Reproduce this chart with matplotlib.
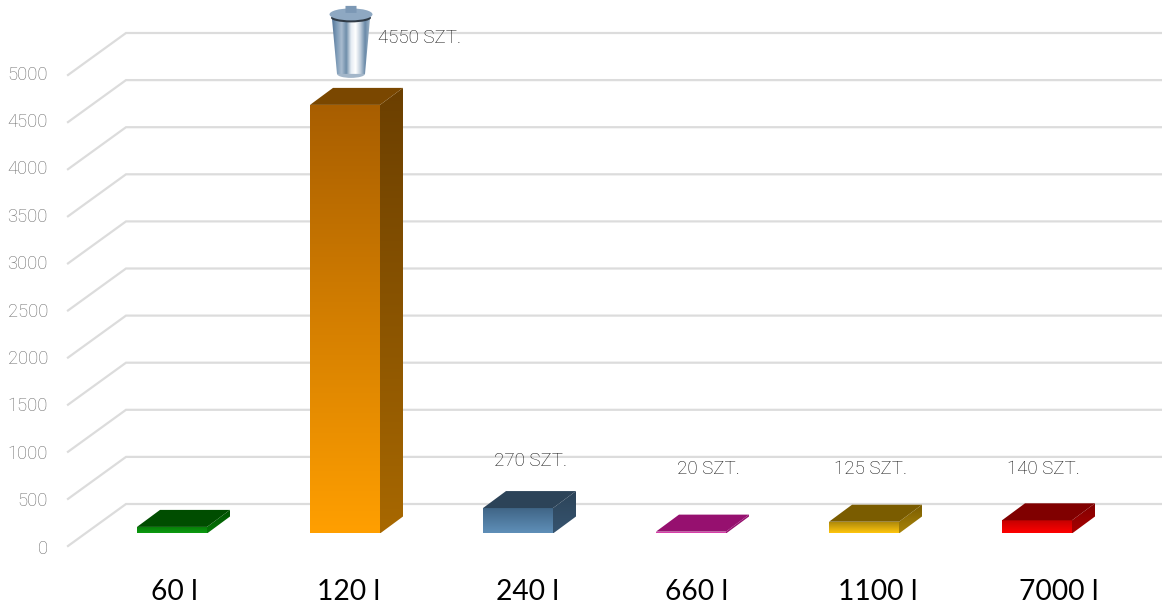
import numpy as np
import matplotlib
matplotlib.use("Agg")
import matplotlib.pyplot as plt
from matplotlib.colors import LinearSegmentedColormap
from matplotlib.patches import Polygon, Ellipse, FancyBboxPatch

categories = ["60 l", "120 l", "240 l", "660 l", "1100 l", "7000 l"]
values = [70, 4550, 270, 20, 125, 140]
labels = [None, "4550 SZT.", "270 SZT.", "20 SZT.", "125 SZT.", "140 SZT."]
y_ticks = [0, 500, 1000, 1500, 2000, 2500, 3000, 3500, 4000, 4500, 5000]

# front colour bottom/top, side colour bottom/top, top face
front_bottom = ["#0c9c10", "#ff9f00", "#5f8fb8", "#f050c0", "#ffc60e", "#ff0000"]
front_top = ["#067a08", "#a85e00", "#3f6485", "#96106f", "#a8840a", "#c00000"]
side_bottom = ["#067a08", "#a86800", "#36546f", "#96106f", "#a8840a", "#a80000"]
side_top = ["#004d00", "#6b3f00", "#2c4358", "#96106f", "#7a5c00", "#800000"]
top_face = ["#004d00", "#7a4700", "#2c4358", "#96106f", "#7a5c00", "#800000"]

W, H = 1162, 608
PX_PER_CAT = 173.0
PX_PER_VAL = 47.1 / 500
X0_PX = 172.0
Y0_PX = 533.5

fig = plt.figure(figsize=(W / 100, H / 100), dpi=100)
ax = fig.add_axes([0, 0, 1, 1])
ax.set_xlim(-X0_PX / PX_PER_CAT, (W - X0_PX) / PX_PER_CAT)
ax.set_ylim((Y0_PX - H) / PX_PER_VAL, Y0_PX / PX_PER_VAL)
ax.axis("off")

# sizes in pixels turned into data units
dx = lambda p: p / PX_PER_CAT
dy = lambda p: p / PX_PER_VAL

# back wall grid and floor lines
for t in y_ticks:
    x_front, x_back = dx(68 - X0_PX), dx(126 - X0_PX)
    y_front, y_back = t - dy(12.5), t + dy(29.5)
    ax.plot([x_front, x_back, ax.get_xlim()[1]], [y_front, y_back, y_back],
            color="#dcdcdc", lw=1.6, zorder=1, solid_joinstyle="miter")
    ax.text(dx(48 - X0_PX), t * 1.006 - dy(15), str(t), ha="right", va="center",
            fontsize=13.2, color="#6a6a6a", family="Roboto", fontweight="light")


def grad(poly, c_bottom, c_top, zorder):
    # gradient fill clipped to polygon
    cmap = LinearSegmentedColormap.from_list("g", [c_top, c_bottom])
    xs, ys = zip(*poly)
    im = ax.imshow(np.linspace(0, 1, 128)[:, None], cmap=cmap, aspect="auto",
                   extent=[min(xs), max(xs), min(ys), max(ys)], zorder=zorder,
                   origin="upper", interpolation="bilinear")
    p = Polygon(poly, closed=True, fc="none", ec="none", transform=ax.transData)
    ax.add_patch(p)
    im.set_clip_path(p)


# the category labels drift to the right in the original
cat_shift = [2, 4, 10, 6, 14, 22]

half = dx(35)
ddx, ddy = dx(23), dy(17)
for i, v in enumerate(values):
    l, r = i - half, i + half
    grad([(l, 0), (r, 0), (r, v), (l, v)], front_bottom[i], front_top[i], 3)
    grad([(r, 0), (r + ddx, ddy), (r + ddx, v + ddy), (r, v)], side_bottom[i], side_top[i], 3)
    ax.add_patch(Polygon([(l, v), (r, v), (r + ddx, v + ddy), (l + ddx, v + ddy)],
                         closed=True, fc=top_face[i], ec="none", zorder=4))
    ax.text(i + dx(cat_shift[i]), dy(-59), categories[i], ha="center", va="center",
            fontsize=20.3, color="black", family="Lato")

# value labels, placed from the bar positions
label_pos = {1: (75, 4550 + dy(67)), 2: (12, dy(72)), 3: (17, dy(64)), 4: (7, dy(65)), 5: (6, dy(65))}
for i, txt in enumerate(labels):
    if txt is None:
        continue
    off, y = label_pos[i]
    ax.text(i + dx(off), y, txt, ha="center", va="center", fontsize=13.5,
            color="#141414", family="Roboto", fontweight="light")

# bin icon on top of the tall bar
bin_cx = 1 + dx(6)
bin_base = 4550 + dy(31)
bin_h = dy(55)
bin_body = [(bin_cx - dx(19), bin_base + bin_h), (bin_cx + dx(19), bin_base + bin_h),
            (bin_cx + dx(14), bin_base), (bin_cx - dx(14), bin_base)]
cmap = LinearSegmentedColormap.from_list(
    "m", ["#56779a", "#7f9cb8", "#a9bccf", "#6f8eaa", "#e4ebf2", "#ffffff", "#c0cedc", "#6a8aa8", "#9fb4c8"])
im = ax.imshow(np.linspace(0, 1, 128)[None, :], cmap=cmap, aspect="auto", zorder=6,
               extent=[bin_cx - dx(19), bin_cx + dx(19), bin_base, bin_base + bin_h])
p = Polygon(bin_body, closed=True, fc="none", ec="none")
ax.add_patch(p)
im.set_clip_path(p)
ax.add_patch(Ellipse((bin_cx, bin_base), dx(28), dy(8), fc="#a3b6c9", ec="none", zorder=5))
ax.add_patch(Ellipse((bin_cx, bin_base + bin_h + dy(1)), dx(40), dy(9), fc="#2f3a45", ec="none", zorder=7))
ax.add_patch(Ellipse((bin_cx, bin_base + bin_h + dy(4.5)), dx(43), dy(12), fc="#8ea8c2", ec="none", zorder=8))
ax.add_patch(FancyBboxPatch((bin_cx - dx(5.5), bin_base + bin_h + dy(6)), dx(11), dy(7),
                            boxstyle="round,pad=0", fc="#7c98b5", ec="none", zorder=9))

ax.set_xlim(-X0_PX / PX_PER_CAT, (W - X0_PX) / PX_PER_CAT)
ax.set_ylim((Y0_PX - H) / PX_PER_VAL, Y0_PX / PX_PER_VAL)
fig.savefig("out.png", dpi=100, facecolor="white")
